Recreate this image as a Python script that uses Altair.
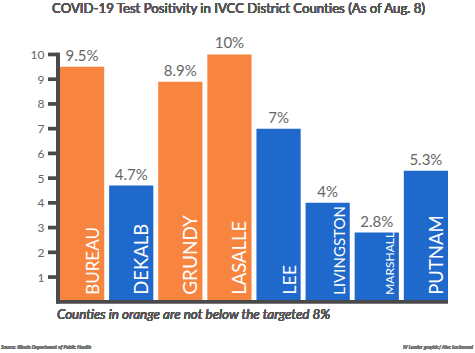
import altair as alt
import pandas as pd

counties = ["BUREAU", "DEKALB", "GRUNDY", "LASALLE", "LEE", "LIVINGSTON", "MARSHALL", "PUTNAM"]
positivity = [9.5, 4.7, 8.9, 10.0, 7.0, 4.0, 2.8, 5.3]
value_labels = ["9.5%", "4.7%", "8.9%", "10%", "7%", "4%", "2.8%", "5.3%"]
name_sizes = [17, 18.5, 19, 18.5, 18, 15, 12, 18.5]
above_target = [True, False, True, True, False, False, False, False]
y_ticks = [1, 2, 3, 4, 5, 6, 7, 8, 9, 10]
y_min, y_max = 0, 10
line_half = 0.075  # half thickness of axis lines, in axis units (about 1.9 px)

df = pd.DataFrame({
    "county": counties,
    "value": positivity,
    "label": value_labels,
    "size": name_sizes,
    "base": [0] * len(counties),
    "group": ["orange" if a else "blue" for a in above_target],
})
ticks_df = pd.DataFrame({"tick": y_ticks})
frame_df = pd.DataFrame({"lo": [y_min], "hi": [y_max]})

FONT = "Lato"
AXIS_COLOR = "#4a4a4a"
W, H = 401, 253
AX = 13  # x offset of the bars from the plot's left edge (room for ticks)

xenc = alt.X("county:N", sort=counties,
             scale=alt.Scale(range=[AX, W], paddingInner=0.1, paddingOuter=0.0),
             axis=alt.Axis(title=None, labels=False, ticks=False, domain=False))
yaxis = alt.Axis(title=None, values=y_ticks, grid=False, labelOverlap=False,
                 domain=False, ticks=False, labelColor="#666666", labelFontSize=12,
                 labelFont=FONT, labelPadding=3)
yscale = alt.Scale(domain=[y_min - 0.13, y_max + 0.1], nice=False, zero=False)

bars = alt.Chart(df).mark_bar().encode(
    x=xenc, y=alt.Y("value:Q", scale=yscale, axis=yaxis), y2="base:Q",
    color=alt.Color("group:N", scale=alt.Scale(domain=["orange", "blue"],
                                               range=["#F7853F", "#1F68CC"]), legend=None),
)

vals = alt.Chart(df).mark_text(baseline="bottom", dy=-3, fontSize=15, color="#666666",
                               font=FONT).encode(
    x=xenc, y=alt.Y("value:Q", scale=yscale, axis=yaxis), text="label:N")

names = alt.Chart(df).mark_text(angle=270, align="left", baseline="alphabetic", dx=7,
                                dy=17, color="white", font=FONT).encode(
    x=xenc, y=alt.Y("base:Q", scale=yscale, axis=yaxis), text="county:N",
    size=alt.Size("size:Q", scale=None, legend=None))

# axis lines drawn as filled rectangles inside the plot area
y_line = alt.Chart(frame_df).transform_calculate(
    top=f"datum.hi + {line_half}", bot=f"datum.lo - {line_half}"
).mark_rect(fill=AXIS_COLOR, opacity=1).encode(
    x=alt.value(AX - 4), x2=alt.value(AX),
    y=alt.Y("bot:Q", scale=yscale, axis=yaxis), y2="top:Q")

x_line = alt.Chart(frame_df).transform_calculate(
    top=f"datum.lo + {line_half}", bot=f"datum.lo - {line_half}"
).mark_rect(fill=AXIS_COLOR, opacity=1).encode(
    x=alt.value(AX - 4), x2=alt.value(W),
    y=alt.Y("bot:Q", scale=yscale, axis=yaxis), y2="top:Q")

tick_marks = alt.Chart(ticks_df).transform_calculate(
    top=f"datum.tick + {line_half}", bot=f"datum.tick - {line_half}"
).mark_rect(fill=AXIS_COLOR, opacity=1).encode(
    x=alt.value(1), x2=alt.value(AX - 3),
    y=alt.Y("bot:Q", scale=yscale, axis=yaxis), y2="top:Q")

title = alt.Chart(df).mark_text(fontSize=13.2, color="#555555", font=FONT).encode(
    x=alt.value(191.5), y=alt.value(-43), text=alt.value(
        "COVID-19 Test Positivity in IVCC District Counties (As of Aug. 8)"))

note = alt.Chart(df).mark_text(fontSize=13.4, fontStyle="italic", color="#555555",
                               font=FONT, align="left").encode(
    x=alt.value(10), y=alt.value(263),
    text=alt.value("Counties in orange are not below the targeted 8%"))

src = alt.Chart(df).mark_text(fontSize=5, fontStyle="italic", color="#777777",
                              font=FONT, align="left").encode(
    x=alt.value(-46), y=alt.value(295),
    text=alt.value("Source: Illinois Department of Public Health"))

credit = alt.Chart(df).mark_text(fontSize=5, fontStyle="italic", color="#777777",
                                 font=FONT, align="right").encode(
    x=alt.value(426), y=alt.value(295),
    text=alt.value("IV Leader graphic/ Alec Lockwood"))

chart = alt.layer(bars, vals, names, y_line, x_line, tick_marks,
                  title, note, src, credit).properties(
    width=W, height=H,
    autosize=alt.AutoSizeParams(type="none"),
    padding={"left": 47, "top": 52, "right": 27, "bottom": 48},
    background="white",
).configure_view(stroke=None)

chart.save("out.html", embed_options={"renderer": "svg", "actions": False})
